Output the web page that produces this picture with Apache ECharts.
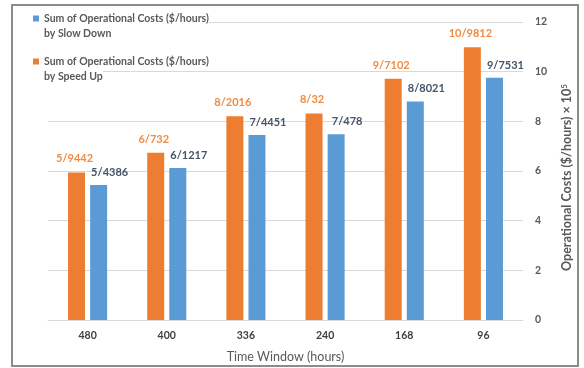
<!DOCTYPE html>
<html>
<head>
<meta charset="utf-8">
<script src="https://cdn.jsdelivr.net/npm/echarts@6/dist/echarts.min.js"></script>
<style>
  html, body { margin: 0; padding: 0; background: #fff; }
  #chart { width: 584px; height: 368px; }
</style>
</head>
<body>
<div id="chart"></div>
<script>
// Time windows (hours) on the category axis
const timeWindows = ['480', '400', '336', '240', '168', '96'];
// Operational costs (x 10^5 $/hours)
const speedUp = [5.9442, 6.732, 8.2016, 8.32, 9.7102, 10.9812];
const slowDown = [5.4386, 6.1217, 7.4451, 7.478, 8.8021, 9.7531];
// Right-hand value axis ticks
const yTicks = [0, 2, 4, 6, 8, 10, 12];

const nameSlow = 'Sum of Operational Costs ($/hours)\nby Slow Down';
const nameSpeed = 'Sum of Operational Costs ($/hours)\nby Speed Up';

const FONT = 'Lato, "Open Sans", sans-serif';
const ORANGE = '#ED7D31';
const BLUE = '#5B9BD5';

// values are written with "/" as the decimal mark
const fmt = p => String(p.value).replace('.', '/');

function legendBlock(name, top) {
  return {
    data: [name],
    orient: 'vertical',
    left: 33,
    top: top,
    padding: 0,
    itemWidth: 6,
    itemHeight: 6,
    itemGap: 0,
    icon: 'rect',
    selectedMode: false,
    formatter: n => n.split('\n').map(s => '{t|' + s + '}').join('\n'),
    textStyle: {
      fontFamily: FONT,
      fontSize: 10.5,
      fontWeight: 'bold',
      color: '#595959',
      padding: [15, 0, 0, 0],
      rich: {
        t: {
          fontFamily: FONT,
          fontSize: 10.5,
          fontWeight: 'bold',
          color: '#595959',
          lineHeight: 15,
          backgroundColor: '#fff'
        }
      }
    }
  };
}

const chart = echarts.init(document.getElementById('chart'), null, { renderer: 'canvas' });
chart.setOption({
  backgroundColor: '#fff',
  animation: false,
  textStyle: { fontFamily: FONT },
  graphic: [{
    type: 'rect',
    z: 100,
    zlevel: 1,
    shape: { x: 12, y: 5, width: 566, height: 361 },
    style: { fill: 'none', stroke: '#8c8c8c', lineWidth: 2 }
  }],
  legend: [legendBlock(nameSlow, 13), legendBlock(nameSpeed, 56)],
  grid: { left: 48, right: 61, top: 22, bottom: 47, containLabel: false },
  xAxis: {
    type: 'category',
    data: timeWindows,
    name: 'Time Window (hours)',
    nameLocation: 'middle',
    nameGap: 30,
    nameTextStyle: { fontFamily: FONT, fontSize: 12.5, color: '#595959' },
    axisLine: { lineStyle: { color: '#D9D9D9' } },
    axisTick: { show: false },
    axisLabel: { fontFamily: FONT, fontSize: 10.5, fontWeight: 'bold', color: '#404040', margin: 10 }
  },
  yAxis: {
    type: 'value',
    position: 'right',
    min: yTicks[0],
    max: yTicks[yTicks.length - 1],
    interval: 2,
    name: '{n|Operational Costs ($/hours) × 10}{s|5}',
    nameLocation: 'middle',
    nameRotate: 90,
    nameGap: 37,
    nameTextStyle: {
      padding: [0, 13, 0, 0],
      rich: {
        n: { fontFamily: FONT, fontSize: 12.5, fontWeight: 'bold', color: '#595959' },
        s: { fontFamily: FONT, fontSize: 8, fontWeight: 'bold', color: '#595959', verticalAlign: 'top', padding: [0, 0, 6, 0] }
      }
    },
    axisLine: { show: false },
    axisTick: { show: false },
    splitLine: { lineStyle: { color: '#D9D9D9' } },
    axisLabel: { fontFamily: FONT, fontSize: 10.5, fontWeight: 'bold', color: '#595959', margin: 12 }
  },
  series: [
    {
      name: nameSpeed,
      type: 'bar',
      data: speedUp,
      barWidth: 17,
      barGap: '30%',
      itemStyle: { color: ORANGE },
      label: {
        show: true,
        position: 'top',
        distance: 8,
        offset: [-2, 0],
        formatter: fmt,
        fontFamily: FONT,
        fontSize: 11,
        fontWeight: 'bold',
        color: '#EE8C45'
      }
    },
    {
      name: nameSlow,
      type: 'bar',
      data: slowDown,
      barWidth: 17,
      barGap: '30%',
      itemStyle: { color: BLUE },
      label: {
        show: true,
        position: 'top',
        distance: 7,
        offset: [11, 0],
        formatter: fmt,
        fontFamily: FONT,
        fontSize: 11,
        fontWeight: 'bold',
        color: '#44546A'
      }
    }
  ]
});
</script>
</body>
</html>
